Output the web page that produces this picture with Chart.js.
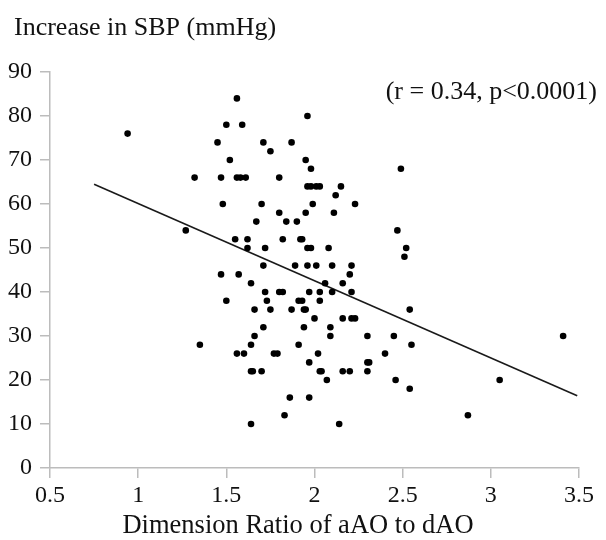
<!DOCTYPE html>
<html>
<head>
<meta charset="utf-8">
<script src="https://cdn.jsdelivr.net/npm/chart.js@4.4.1/dist/chart.umd.min.js"></script>
<style>
  html, body { margin: 0; padding: 0; background: #fff; }
  #wrap { width: 606px; height: 540px; position: relative; }
</style>
</head>
<body>
<div id="wrap"><canvas id="c" width="606" height="540"></canvas></div>
<script>
// Dimension ratio of ascending to descending aorta (x) per patient
const ratio = [
  1.56, 1.50, 1.59, 0.94, 1.45, 1.52, 1.32, 1.47, 1.56, 1.58, 1.61, 1.48, 1.27, 1.55, 1.62, 1.62,
  1.96, 1.71, 1.87, 1.75, 1.95, 1.98, 2.49, 1.80, 1.96, 1.98, 2.01, 2.03, 2.15, 2.12,
  1.70, 1.99, 2.23, 1.80, 1.95, 2.11, 1.67, 1.84, 1.90, 2.47, 1.82, 1.92, 1.93,
  1.72, 1.96, 1.98, 2.08, 2.52, 2.51, 1.71, 1.89, 1.96, 2.01, 2.10, 2.21,
  1.47, 1.57, 2.20, 1.64, 2.06, 2.16, 1.72, 1.80, 1.82, 1.97, 2.03, 2.10, 2.21,
  1.50, 1.73, 1.91, 1.93, 2.03, 1.66, 1.75, 1.87, 1.94, 1.95, 2.54,
  2.00, 2.16, 2.21, 2.23, 1.71, 1.94, 2.09, 1.66, 2.09, 2.30, 2.45, 3.41,
  1.64, 1.35, 1.91, 2.55, 1.56, 1.60, 1.77, 1.79, 2.02, 2.40, 1.97, 2.30, 2.31,
  1.64, 1.65, 1.70, 2.03, 2.04, 2.16, 2.20, 2.30, 2.07, 2.46, 3.05, 2.54,
  1.86, 1.97, 1.83, 2.87, 1.64, 2.14
];

// Increase in systolic blood pressure (mmHg), same order as ratio
const sbpIncrease = [
  84, 78, 78, 76, 74, 70, 66, 66, 66, 66, 66, 60, 54, 52, 52, 50,
  80, 74, 74, 72, 70, 68, 68, 66, 64, 64, 64, 64, 64, 62,
  60, 60, 60, 58, 58, 58, 56, 56, 56, 54, 52, 52, 52,
  50, 50, 50, 50, 50, 48, 46, 46, 46, 46, 46, 46,
  44, 44, 44, 42, 42, 42, 40, 40, 40, 40, 40, 40, 40,
  38, 38, 38, 38, 38, 36, 36, 36, 36, 36, 36,
  34, 34, 34, 34, 32, 32, 32, 30, 30, 30, 30, 30,
  28, 28, 28, 28, 26, 26, 26, 26, 26, 26, 24, 24, 24,
  22, 22, 22, 22, 22, 22, 22, 22, 20, 20, 20, 18,
  16, 16, 12, 12, 10, 10
];

// Least-squares fit line end points
const fitX = [0.75, 3.49];
const fitY = [64.5, 16.4];

// Axis ticks
const xTicks = [0.5, 1, 1.5, 2, 2.5, 3, 3.5];
const yTicks = [0, 10, 20, 30, 40, 50, 60, 70, 80, 90];

const yTitle = 'Increase in SBP (mmHg)';
const xTitle = 'Dimension Ratio of aAO to dAO';
const statText = '(r = 0.34, p<0.0001)';

const SERIF = "'Liberation Serif', 'DejaVu Serif', serif";
const INK = '#111';
const AXIS = '#bcbcbc';

const points = ratio.map((x, i) => ({ x: x, y: sbpIncrease[i] }));
const fitLine = fitX.map((x, i) => ({ x: x, y: fitY[i] }));

// Free-standing labels: y title above the axis, x title below, statistics top-right
const labelsPlugin = {
  id: 'labels',
  afterDraw(chart) {
    const ctx = chart.ctx;
    ctx.save();
    ctx.fillStyle = INK;
    ctx.font = '26px ' + SERIF;
    ctx.textBaseline = 'alphabetic';
    ctx.textAlign = 'left';
    ctx.fillText(yTitle, 14, 35);
    ctx.textAlign = 'right';
    ctx.fillText(statText, 597, 99);
    ctx.textAlign = 'center';
    ctx.font = '26.5px ' + SERIF;
    ctx.fillText(xTitle, 298, 533);
    ctx.restore();
  }
};

new Chart(document.getElementById('c'), {
  type: 'scatter',
  data: {
    datasets: [
      {
        data: points,
        backgroundColor: '#000',
        borderWidth: 0,
        pointRadius: 3.3,
        pointHoverRadius: 3.3
      },
      {
        type: 'line',
        data: fitLine,
        borderColor: '#1a1a1a',
        borderWidth: 1.6,
        pointRadius: 0,
        fill: false,
        tension: 0
      }
    ]
  },
  options: {
    responsive: false,
    animation: false,
    events: [],
    layout: { padding: { top: 72, right: 27, left: 0, bottom: 0 } },
    plugins: {
      legend: { display: false },
      tooltip: { enabled: false },
      title: { display: false }
    },
    scales: {
      x: {
        type: 'linear',
        min: 0.5,
        max: 3.5,
        afterBuildTicks(scale) { scale.ticks = xTicks.map(v => ({ value: v })); },
        afterFit(scale) { scale.height = 72; },
        ticks: {
          color: INK,
          font: { family: SERIF, size: 24 },
          padding: 3,
          maxRotation: 0,
          callback: v => String(v)
        },
        grid: { drawOnChartArea: false, drawTicks: true, tickLength: 10, color: AXIS, lineWidth: 1.5 },
        border: { display: true, color: AXIS, width: 1.5 }
      },
      y: {
        type: 'linear',
        min: 0,
        max: 90,
        afterBuildTicks(scale) { scale.ticks = yTicks.map(v => ({ value: v })); },
        afterFit(scale) { scale.width = 50; },
        ticks: {
          color: INK,
          font: { family: SERIF, size: 24 },
          padding: 8,
          callback: v => String(v)
        },
        grid: { drawOnChartArea: false, drawTicks: true, tickLength: 10, color: AXIS, lineWidth: 1.5 },
        border: { display: true, color: AXIS, width: 1.5 }
      }
    }
  },
  plugins: [labelsPlugin]
});
</script>
</body>
</html>
